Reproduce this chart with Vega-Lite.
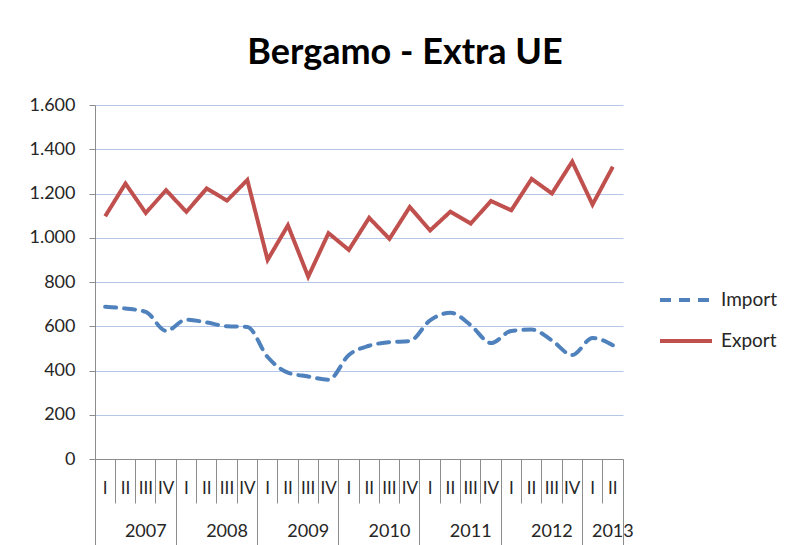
{
  "$schema": "https://vega.github.io/schema/vega-lite/v6.json",
  "width": 528,
  "height": 354,
  "autosize": "none",
  "padding": {"left": 95, "top": 105, "right": 170, "bottom": 86},
  "background": "white",
  "title": {
    "text": "Bergamo - Extra UE",
    "font": "Lato",
    "fontSize": 36,
    "fontWeight": "bold",
    "color": "#000000",
    "anchor": "middle",
    "frame": "group",
    "dx": 46,
    "baseline": "alphabetic",
    "offset": -4
  },
  "config": {
    "view": {"stroke": null},
    "font": "Lato",
    "axis": {"labelFont": "Lato", "labelColor": "#262626", "domainColor": "#8c8c8c", "tickColor": "#8c8c8c", "domainWidth": 1, "tickWidth": 1}
  },
  "data": {
    "values": [
      {"period": "2007 I", "series": "Import", "value": 688},
      {"period": "2007 II", "series": "Import", "value": 680},
      {"period": "2007 III", "series": "Import", "value": 665},
      {"period": "2007 IV", "series": "Import", "value": 579},
      {"period": "2008 I", "series": "Import", "value": 630},
      {"period": "2008 II", "series": "Import", "value": 617},
      {"period": "2008 III", "series": "Import", "value": 600},
      {"period": "2008 IV", "series": "Import", "value": 597},
      {"period": "2009 I", "series": "Import", "value": 461},
      {"period": "2009 II", "series": "Import", "value": 390},
      {"period": "2009 III", "series": "Import", "value": 373},
      {"period": "2009 IV", "series": "Import", "value": 358},
      {"period": "2010 I", "series": "Import", "value": 470},
      {"period": "2010 II", "series": "Import", "value": 512},
      {"period": "2010 III", "series": "Import", "value": 528},
      {"period": "2010 IV", "series": "Import", "value": 533},
      {"period": "2011 I", "series": "Import", "value": 627},
      {"period": "2011 II", "series": "Import", "value": 661},
      {"period": "2011 III", "series": "Import", "value": 605},
      {"period": "2011 IV", "series": "Import", "value": 524},
      {"period": "2012 I", "series": "Import", "value": 579},
      {"period": "2012 II", "series": "Import", "value": 585},
      {"period": "2012 III", "series": "Import", "value": 536},
      {"period": "2012 IV", "series": "Import", "value": 470},
      {"period": "2013 I", "series": "Import", "value": 547},
      {"period": "2013 II", "series": "Import", "value": 514},
      {"period": "2007 I", "series": "Export", "value": 1097},
      {"period": "2007 II", "series": "Export", "value": 1245},
      {"period": "2007 III", "series": "Export", "value": 1112},
      {"period": "2007 IV", "series": "Export", "value": 1215},
      {"period": "2008 I", "series": "Export", "value": 1117},
      {"period": "2008 II", "series": "Export", "value": 1223},
      {"period": "2008 III", "series": "Export", "value": 1168},
      {"period": "2008 IV", "series": "Export", "value": 1261},
      {"period": "2009 I", "series": "Export", "value": 900},
      {"period": "2009 II", "series": "Export", "value": 1056},
      {"period": "2009 III", "series": "Export", "value": 824},
      {"period": "2009 IV", "series": "Export", "value": 1021},
      {"period": "2010 I", "series": "Export", "value": 945},
      {"period": "2010 II", "series": "Export", "value": 1090},
      {"period": "2010 III", "series": "Export", "value": 995},
      {"period": "2010 IV", "series": "Export", "value": 1139},
      {"period": "2011 I", "series": "Export", "value": 1033},
      {"period": "2011 II", "series": "Export", "value": 1118},
      {"period": "2011 III", "series": "Export", "value": 1064},
      {"period": "2011 IV", "series": "Export", "value": 1166},
      {"period": "2012 I", "series": "Export", "value": 1124},
      {"period": "2012 II", "series": "Export", "value": 1266},
      {"period": "2012 III", "series": "Export", "value": 1200},
      {"period": "2012 IV", "series": "Export", "value": 1344},
      {"period": "2013 I", "series": "Export", "value": 1150},
      {"period": "2013 II", "series": "Export", "value": 1321}
    ]
  },
  "encoding": {
    "x": {"field": "period", "type": "ordinal", "sort": null, "scale": {"type": "band", "paddingInner": 0, "paddingOuter": 0}},
    "y": {"field": "value", "type": "quantitative", "scale": {"domain": [0, 1600], "nice": false, "zero": true}}
  },
  "resolve": {"axis": {"x": "independent"}},
  "layer": [
    {
      "transform": [{"filter": "datum.series === 'Import'"}],
      "mark": {"type": "line", "interpolate": "monotone", "strokeWidth": 4, "strokeCap": "round"},
      "encoding": {
        "x": {"field": "period", "type": "ordinal", "sort": null,
          "axis": {"orient": "bottom", "title": null, "bandPosition": 0, "tickSize": 44, "labelAngle": 0,
            "labelExpr": "split(datum.label, ' ')[1]", "labelPadding": -15, "labelBaseline": "middle",
            "labelFontSize": 17, "domain": true, "grid": false}},
        "y": {"field": "value", "type": "quantitative",
          "axis": {"title": null, "values": [0, 200, 400, 600, 800, 1000, 1200, 1400, 1600], "tickSize": 6,
            "labelPadding": 14, "labelFontSize": 18, "labelExpr": "replace(format(datum.value, ','), ',', '.')",
            "grid": true, "gridColor": "#b4c7e7", "gridWidth": 1, "domain": true}},
        "color": {"field": "series", "type": "nominal", "title": null,
          "scale": {"domain": ["Import", "Export"], "range": ["#4f81bd", "#c0504d"]},
          "legend": {"orient": "none", "legendX": 563, "legendY": 167, "symbolType": "stroke", "symbolSize": 2704,
            "symbolStrokeWidth": 4, "labelFontSize": 19, "labelFont": "Lato", "labelColor": "#262626", "labelOffset": 7, "rowPadding": 3}},
        "strokeDash": {"field": "series", "type": "nominal", "title": null,
          "scale": {"domain": ["Import", "Export"], "range": [[11, 8], [1, 0]]},
          "legend": {"orient": "none", "legendX": 563, "legendY": 167, "symbolType": "stroke", "symbolSize": 2704,
            "symbolStrokeWidth": 4, "labelFontSize": 19, "labelFont": "Lato", "labelColor": "#262626", "labelOffset": 7, "rowPadding": 3}}
      }
    },
    {
      "transform": [{"filter": "datum.series === 'Export'"}],
      "mark": {"type": "line", "strokeWidth": 4, "strokeJoin": "miter"},
      "encoding": {
        "x": {"field": "period", "type": "ordinal", "sort": null, "axis": null},
        "color": {"field": "series", "type": "nominal"},
        "strokeDash": {"field": "series", "type": "nominal"}
      }
    },
    {
      "mark": {"type": "point", "opacity": 0},
      "encoding": {
        "x": {"field": "period", "type": "ordinal", "sort": null,
          "axis": {"orient": "bottom", "title": null, "bandPosition": 0, "ticks": false, "tickSize": 0, "domain": false,
            "labelAngle": 0, "labelFontSize": 18, "labelBaseline": "middle", "labelPadding": 72,
            "values": ["2007 III", "2008 III", "2009 III", "2010 III", "2011 III", "2012 III", "2013 II"],
            "labelExpr": "split(datum.label, ' ')[0]", "grid": false}}
      }
    },
    {
      "mark": {"type": "point", "opacity": 0},
      "encoding": {
        "x": {"field": "period", "type": "ordinal", "sort": null,
          "axis": {"orient": "bottom", "title": null, "bandPosition": 0, "tickSize": 95, "domain": false, "labels": false,
            "values": ["2007 I", "2008 I", "2009 I", "2010 I", "2011 I", "2012 I", "2013 I"], "grid": false}}
      }
    },
    {
      "mark": {"type": "point", "opacity": 0},
      "encoding": {
        "x": {"field": "period", "type": "ordinal", "sort": null,
          "axis": {"orient": "bottom", "title": null, "bandPosition": 1, "tickSize": 95, "domain": false, "labels": false,
            "values": ["2013 II"], "grid": false}}
      }
    }
  ]
}
